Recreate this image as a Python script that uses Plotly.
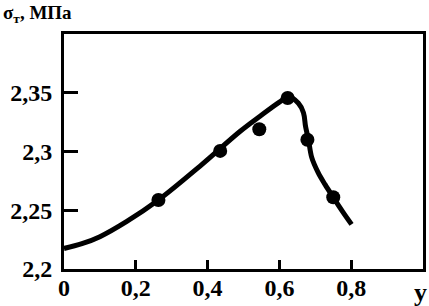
import plotly.graph_objects as go

# Experimental points
pts_x = [0.263, 0.435, 0.544, 0.623, 0.678, 0.750]
pts_y = [2.2587, 2.3005, 2.319, 2.3455, 2.310, 2.261]

# Smooth fitted curve
curve_x = [0.0, 0.05, 0.10, 0.175, 0.263, 0.379, 0.49, 0.546, 0.60, 0.625, 0.653, 0.667,
           0.673, 0.681, 0.690, 0.708, 0.727, 0.750, 0.778, 0.801]
curve_y = [2.2175, 2.2215, 2.2275, 2.2405, 2.2587, 2.2876, 2.317, 2.330, 2.342, 2.3465, 2.341, 2.333,
           2.321, 2.310, 2.295, 2.282, 2.272, 2.261, 2.248, 2.238]

x_ticks = [0, 0.2, 0.4, 0.6, 0.8]
x_labels = ["0", "0,2", "0,4", "0,6", "0,8"]
y_ticks = [2.2, 2.25, 2.3, 2.35]
y_labels = ["2,2", "2,25", "2,3", "2,35"]

FONT = "Liberation Serif"

fig = go.Figure()
fig.add_trace(go.Scatter(x=curve_x, y=curve_y, mode="lines",
                         line=dict(color="black", width=5, shape="spline", smoothing=1.0),
                         hoverinfo="skip", showlegend=False))
fig.add_trace(go.Scatter(x=pts_x, y=pts_y, mode="markers",
                         marker=dict(color="black", size=14),
                         showlegend=False))

fig.update_layout(
    width=429, height=306,
    margin=dict(l=64, r=6, t=34, b=37, autoexpand=False),
    paper_bgcolor="white", plot_bgcolor="white",
    showlegend=False,
)
fig.update_xaxes(range=[0, 1.0], tickvals=x_ticks, ticktext=x_labels,
                 ticks="inside", ticklen=9, tickwidth=3, tickcolor="black",
                 showline=True, linewidth=3, linecolor="black", mirror=True,
                 showgrid=False, zeroline=False, automargin=False,
                 ticklabelstandoff=-5,
                 tickfont=dict(family=FONT, size=24, color="black", weight="bold"))
fig.update_yaxes(range=[2.2, 2.4], tickvals=y_ticks, ticktext=y_labels,
                 ticks="inside", ticklen=14, tickwidth=3, tickcolor="black",
                 showline=True, linewidth=3, linecolor="black", mirror=True,
                 showgrid=False, zeroline=False, automargin=False,
                 ticklabelstandoff=4,
                 tickfont=dict(family=FONT, size=24, color="black", weight="bold"))

fig.add_annotation(text="σ<sub>т</sub>, МПа", xref="paper", yref="paper",
                   x=-0.175, y=1.145, xanchor="left", yanchor="top", showarrow=False,
                   font=dict(family=FONT, size=19, color="black", weight="bold"))
fig.add_annotation(text="y", xref="paper", yref="paper",
                   x=0.992, y=-0.03, xanchor="center", yanchor="top", showarrow=False,
                   font=dict(family=FONT, size=26, color="black", weight="bold"))

fig.write_html("out.html", config={"displayModeBar": False},
               post_script="document.body.style.margin='0';document.body.style.overflow='hidden';")
